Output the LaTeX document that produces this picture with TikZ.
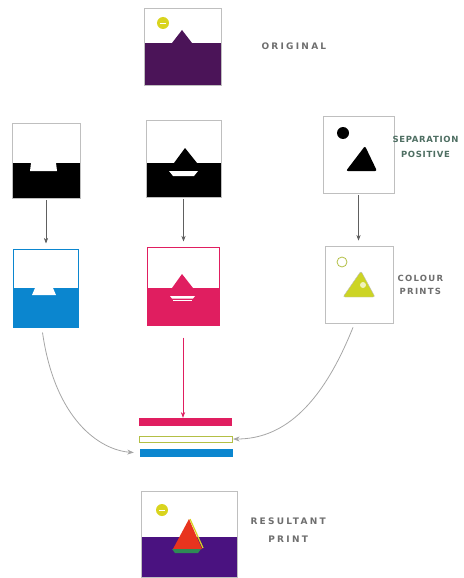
\documentclass[tikz,border=0pt]{standalone}
\usepackage{fontspec}
\newfontfamily\lettering[LetterSpace=25]{DejaVu Sans}
\newfontfamily\letteringtight[LetterSpace=8]{DejaVu Sans}
\newfontfamily\letteringmid[LetterSpace=15]{DejaVu Sans}
\usetikzlibrary{arrows.meta, positioning}

\definecolor{inkpurple}{HTML}{4B1458}
\definecolor{inkviolet}{HTML}{4A1280}
\definecolor{inkcyan}{HTML}{0B86CF}
\definecolor{inkmagenta}{HTML}{E01E60}
\definecolor{inksun}{HTML}{D9D41E}
\definecolor{inkolive}{HTML}{B3BF45}
\definecolor{inkyellow}{HTML}{CCD424}
\definecolor{inkred}{HTML}{E8341E}
\definecolor{inkgreen}{HTML}{2E8A55}
\definecolor{letters}{HTML}{6E6E6E}
\definecolor{lettersgreen}{HTML}{4E6E62}

\begin{document}
\begin{tikzpicture}[
    x=1pt, y=-1pt,
    >=Stealth,
    every node/.style={align=center},
    plate/.style={draw=gray!50, line width=0.7pt, inner sep=0pt},
    band/.style={inner sep=0pt, minimum width=93pt, minimum height=8pt},
    flecha/.style={draw=gray!75!black, line width=0.6pt, ->, shorten <=2pt, shorten >=5pt},
    curva/.style={draw=gray!70, line width=0.8pt, ->},
    rotulo/.style={inner sep=0pt, font=\lettering\bfseries\fontsize{9}{18}\selectfont, text=letters}
]
\useasboundingbox (0,0) rectangle (463,578);

% ---- original ----
\fill[inkpurple] (144,43) rectangle (221,85);
\fill[inkpurple] (172,43) -- (182,30) -- (192,43) -- cycle;
\fill[inksun] (163,23) circle [radius=6pt];
\draw[white, line width=0.8pt] (160,23) -- (166,23);
\node[plate, minimum width=77pt, minimum height=77pt] (original) at (182.5,46.5) {};
\node[rotulo, right=40pt of original] (original label) {ORIGINAL};

% ---- negativo del cian ----
\fill[black] (12,163) rectangle (80,198);
\fill[white] (31,163) -- (56,163) -- (57,171) -- (30,171) -- cycle;
\node[plate, minimum width=68pt, minimum height=75pt] (neg cyan) at (46,160.5) {};

% ---- impresion cian ----
\fill[inkcyan] (13,288) rectangle (78,327);
\fill[white] (35,288) -- (53,288) -- (56,295) -- (32,295) -- cycle;
\node[plate, draw=inkcyan, line width=1pt, minimum width=65pt, minimum height=78pt] (print cyan) at (45.5,288) {};

% ---- negativo del magenta ----
\fill[black] (146,163) rectangle (221,197);
\fill[black] (174,163) -- (185,148) -- (197,163) -- cycle;
\fill[white] (169,171) -- (198,171) -- (194,176) -- (173,176) -- cycle;
\node[plate, minimum width=75pt, minimum height=77pt] (neg magenta) at (183.5,158.5) {};

% ---- impresion magenta ----
\fill[inkmagenta] (147,288) rectangle (219,325);
\fill[inkmagenta] (172,288) -- (182,274) -- (193,288) -- cycle;
\fill[white] (170,296) -- (195,296) -- (193,298.5) -- (172,298.5) -- cycle;
\draw[white, line width=0.8pt] (173,300.5) -- (192,300.5);
\node[plate, draw=inkmagenta, line width=1pt, minimum width=72pt, minimum height=78pt] (print magenta) at (183,286) {};

% ---- positivo de separacion ----
\fill[black] (343,133) circle [radius=6pt];
\fill[black, rounded corners=2pt] (365,146) -- (377,171) -- (346,171) -- cycle;
\node[plate, minimum width=71pt, minimum height=77pt] (sep positive) at (358.5,154.5) {};
\node[rotulo, text=lettersgreen, right=-2pt of sep positive, yshift=8pt, font=\letteringtight\bfseries\fontsize{8.5}{15}\selectfont] (sep label) {SEPARATION\\POSITIVE};

% ---- impresion amarilla ----
\draw[inkolive, line width=0.8pt] (342,262) circle [radius=5pt];
\filldraw[fill=inkyellow, draw=gray!50, rounded corners=2pt] (361,271) -- (375,297) -- (343,297) -- cycle;
\fill[white!70!inkyellow] (363,285) circle [radius=3pt];
\node[plate, minimum width=68pt, minimum height=77pt] (print yellow) at (359,284.5) {};
\node[rotulo, right=4pt of print yellow, font=\letteringmid\bfseries\fontsize{8.5}{13}\selectfont] (print label) {COLOUR\\ PRINTS};

% ---- bandas superpuestas ----
\node[band, fill=inkmagenta] (bar magenta) at (185.5,422) {};
\node[band, draw=inkolive, line width=1pt, fill=white, minimum height=6pt] (bar yellow) at (186,439) {};
\node[band, fill=inkcyan] (bar cyan) at (186.5,453) {};

% ---- resultado ----
\fill[inkviolet] (141,537) rectangle (237,577);
\fill[inksun] (162,510) circle [radius=6pt];
\draw[white, line width=0.8pt] (159,510) -- (165,510);
\fill[inkred] (189,519) -- (202,549) -- (173,549) -- cycle;
\draw[inksun, line width=1.2pt] (190,519) -- (203,548);
\fill[inkgreen] (172,549) -- (201,549) -- (198,553) -- (175,553) -- cycle;
\node[plate, minimum width=96pt, minimum height=86pt] (result) at (189,534) {};
\node[rotulo, right=13pt of result, yshift=4pt] (result label) {RESULTANT\\ PRINT};

% ---- flechas ----
\draw[flecha] (neg cyan.south) -- (neg cyan.south |- print cyan.north);
\draw[flecha] (neg magenta.south) -- (neg magenta.south |- print magenta.north);
\draw[flecha] (sep positive.south) -- (sep positive.south |- print yellow.north);
\draw[flecha, draw=inkmagenta, shorten <=12pt, shorten >=0pt] (print magenta.south) -- (print magenta.south |- bar magenta.north);

% ---- curvas hacia las bandas ----
\draw[curva, shorten >=6pt] ([xshift=-3pt, yshift=-5pt]print cyan.south) .. controls (55,420) and (100,450) .. (bar cyan.west);
\draw[curva] ([xshift=-6pt, yshift=-4pt]print yellow.south) .. controls (320,410) and (280,439) .. (bar yellow.east);

\end{tikzpicture}
\end{document}
